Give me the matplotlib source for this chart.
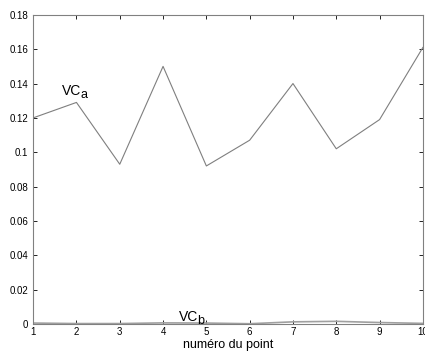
import numpy as np
import matplotlib
matplotlib.use('Agg')
import matplotlib.pyplot as plt
from matplotlib.transforms import offset_copy

plt.rcParams['font.family'] = ['Liberation Sans', 'DejaVu Sans']

# données
points = [1, 2, 3, 4, 5, 6, 7, 8, 9, 10]
vc_a = [0.120, 0.129, 0.093, 0.150, 0.092, 0.107, 0.140, 0.102, 0.119, 0.161]
vc_b = [0.0005, 0.0002, 0.0002, 0.0006, 0.0005, 0.0001, 0.0012, 0.0015, 0.0008, 0.0003]
yticks = [0, 0.02, 0.04, 0.06, 0.08, 0.1, 0.12, 0.14, 0.16, 0.18]
ylabels = ['0', '0.02', '0.04', '0.06', '0.08', '0.1', '0.12', '0.14', '0.16', '0.18']

fig = plt.figure(figsize=(4.25, 3.54), dpi=100)
ax = fig.add_axes([0.078, 0.085, 0.917, 0.873])

ax.plot(points, vc_a, color='#7f7f7f', lw=0.8)
ax.plot(points, vc_b, color='#a0a0a0', lw=1.2)

ax.set_xlim(1, 10)
ax.set_ylim(0, 0.18)
ax.set_xticks(points)
ax.set_yticks(yticks)
ax.set_yticklabels(ylabels)
ax.tick_params(direction='in', length=3, labelsize=7, colors='black',
               top=True, right=True, width=0.6)
ax.tick_params(axis='x', pad=2)
for s in ax.spines.values():
    s.set_color('#808080')
    s.set_linewidth(0.8)

# étiquettes VC avec indice
def label(x, y, base, sub):
    ax.text(x, y, base, fontsize=10)
    tr = offset_copy(ax.transData, fig=fig, x=13.3, y=-2.5, units='points')
    ax.text(x, y, sub, fontsize=9, transform=tr)

label(1.67, 0.1335, 'VC', 'a')
label(4.37, 0.0018, 'VC', 'b')
ax.set_xlabel('numéro du point', fontsize=9, labelpad=2)

fig.savefig('out.png', dpi=100)
